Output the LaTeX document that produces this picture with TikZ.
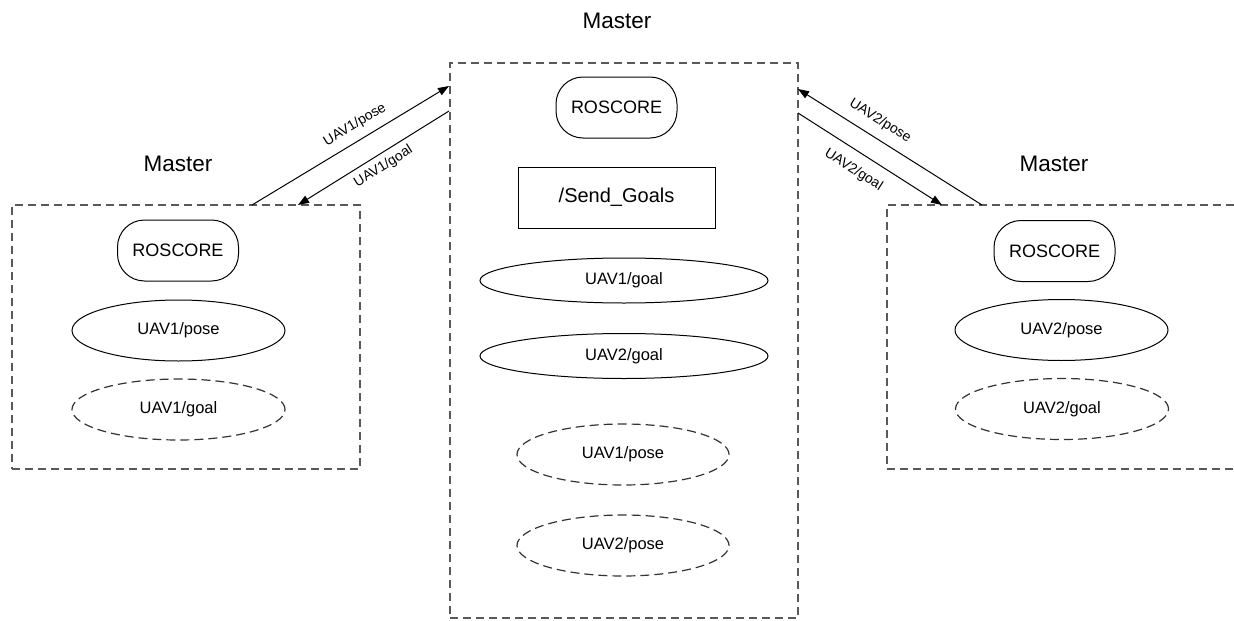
\documentclass[tikz,border=0pt]{standalone}
\usepackage{fontspec}
\setmainfont{Liberation Sans}
\usetikzlibrary{shapes.geometric,arrows.meta}

\begin{document}
\begin{tikzpicture}[x=1pt,y=1pt,yscale=-1,
  groupbox/.style={draw=black!65,line width=1.3pt,dash pattern=on 8pt off 5pt},
  master/.style={font=\fontsize{22.5}{26}\selectfont},
  roscore/.style={draw,line width=1pt,rounded corners=27pt,minimum width=121pt,minimum height=61pt,font=\fontsize{18}{21}\selectfont},
  topic/.style={draw,ellipse,line width=1pt,inner sep=0pt,font=\fontsize{16.5}{19}\selectfont},
  remotetopic/.style={topic,draw=black!80,line width=1.2pt,dash pattern=on 9pt off 5pt},
  link/.style={line width=1pt,-{Triangle[length=11pt,width=8pt]}},
  linklabel/.style={inner sep=1pt,font=\fontsize{14}{16}\selectfont}]
\useasboundingbox (0,0) rectangle (1234,621);
\clip (0,0) rectangle (1234,621);

%Shape: Master boxes
\node[groupbox,minimum width=348pt,minimum height=264pt] (leftbox) at (186,337) {};
\node[groupbox,minimum width=348pt,minimum height=555pt] (centrebox) at (624,340.5) {};
\node[groupbox,minimum width=360pt,minimum height=264pt] (rightbox) at (1067,337) {};

% Text Node
\node[master] (lefttitle) at (178,164) {Master};
\node[master] (centretitle) at (617,21) {Master};
\node[master] (righttitle) at (1054,164) {Master};

%Shape: left master
\node[roscore] (leftcore) at (178,250.5) {ROSCORE};
\node[topic,minimum width=213pt,minimum height=61pt] (leftpose) at (178.5,330.5) {UAV1/pose};
\node[remotetopic,minimum width=213pt,minimum height=61pt] (leftgoal) at (178.5,409.5) {UAV1/goal};

%Shape: centre master
\node[roscore] (centrecore) at (616.5,107.5) {ROSCORE};
\node[draw,line width=1pt,minimum width=197pt,minimum height=61pt,font=\fontsize{20}{23}\selectfont] (sendgoals) at (616.5,197.5) {/Send\_Goals};
\node[topic,minimum width=288pt,minimum height=45pt] (goalone) at (624,280.5) {UAV1/goal};
\node[topic,minimum width=288pt,minimum height=45pt] (goaltwo) at (624,356) {UAV2/goal};
\node[remotetopic,minimum width=212pt,minimum height=61pt] (poseone) at (623,454.5) {UAV1/pose};
\node[remotetopic,minimum width=212pt,minimum height=61pt] (posetwo) at (623,545.5) {UAV2/pose};

%Shape: right master
\node[roscore] (rightcore) at (1054.5,251) {ROSCORE};
\node[topic,minimum width=213pt,minimum height=61pt] (rightpose) at (1061.5,330) {UAV2/pose};
\node[remotetopic,minimum width=213pt,minimum height=61pt] (rightgoal) at (1062,409) {UAV2/goal};

%Straight Lines: topic links
\coordinate (lp0) at (252,205); \coordinate (lp1) at (449,86);
\coordinate (lg0) at (449,111); \coordinate (lg1) at (298,205);
\coordinate (rp0) at (982,205); \coordinate (rp1) at (798,89);
\coordinate (rg0) at (798,113); \coordinate (rg1) at (942,205);
\draw[link] (lp0) -- (lp1);
\draw[link] (lg0) -- (lg1);
\draw[link] (rp0) -- (rp1);
\draw[link] (rg0) -- (rg1);

% Text Node
\node[linklabel,rotate=31] (leftposelabel) at (355,125) {UAV1/pose};
\node[linklabel,rotate=32] (leftgoallabel) at (383.5,166.5) {UAV1/goal};
\node[linklabel,rotate=-32] (rightposelabel) at (880,121) {UAV2/pose};
\node[linklabel,rotate=-32.5] (rightgoallabel) at (853.5,170) {UAV2/goal};

\end{tikzpicture}
\end{document}
